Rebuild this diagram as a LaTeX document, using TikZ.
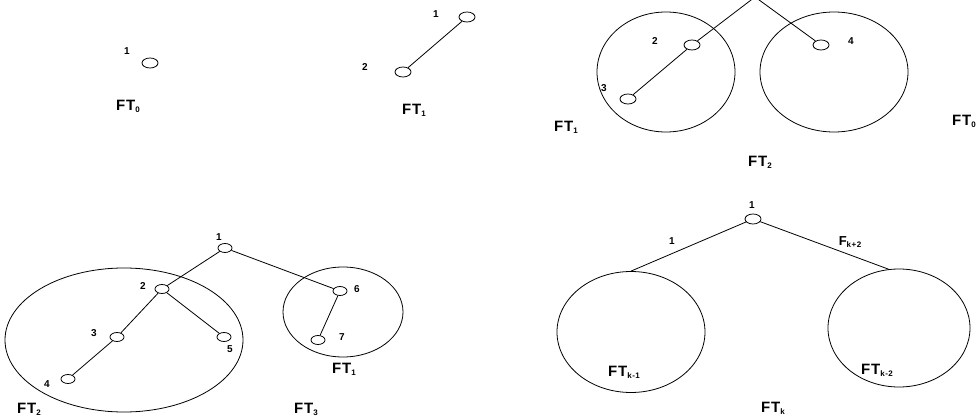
\documentclass[tikz,border=0pt]{standalone}
\usepackage{fontspec}
\setmainfont{Liberation Sans}
\usetikzlibrary{shapes.geometric}
\newcommand{\ftsb}[1]{\raisebox{-0.25ex}{\fontsize{8}{9}\selectfont #1}}
\begin{document}
\begin{tikzpicture}[x=1pt,y=-1pt,line width=0.8pt,
  vert/.style={draw,ellipse,minimum width=16pt,minimum height=10pt,inner sep=0pt},
  svert/.style={draw,ellipse,minimum width=14pt,minimum height=9pt,inner sep=0pt},
  blob/.style={draw,ellipse,inner sep=0pt},
  num/.style={font=\bfseries\fontsize{10}{11}\selectfont,inner sep=0pt},
  ftlab/.style={font=\bfseries\fontsize{15}{17}\selectfont\addfontfeature{LetterSpace=6},inner sep=0pt}]
\useasboundingbox (0,0) rectangle (978,417);
\clip (0,0) rectangle (978,417);
% FT0
\node[vert] (a1) at (150,63) {};
\node[num] (la1) at (127,51) {1};
\node[ftlab] (lfa) at (128,106) {FT\ftsb{0}};
% FT1
\node[vert] (b1) at (467,17) {};
\node[vert] (b2) at (403,72) {};
\node[num] (lb1) at (436,14) {1};
\node[num] (lb2) at (365,67) {2};
\draw (b1) -- (b2);
\node[ftlab] (lfb) at (414,110) {FT\ftsb{1}};
% FT2
\node[blob,minimum width=138pt,minimum height=120pt] (cL) at (666,72) {};
\node[blob,minimum width=148pt,minimum height=120pt] (cR) at (834,72) {};
\coordinate (apex) at (755,-3);
\node[vert] (c2) at (692,45) {};
\node[vert] (c3) at (628,99) {};
\node[vert] (c4) at (821,45) {};
\node[num] (lc2) at (655,41) {2};
\node[num] (lc3) at (604,88) {3};
\node[num] (lc4) at (851,41) {4};
\draw (apex) -- (c2) -- (c3);
\draw (apex) -- (c4);
\node[ftlab] (lfc1) at (566,127) {FT\ftsb{1}};
\node[ftlab] (lfc2) at (760,162) {FT\ftsb{2}};
\node[ftlab] (lfc0) at (964,121) {FT\ftsb{0}};
% FT3
\node[blob,minimum width=238pt,minimum height=144pt] (dL) at (124,340) {};
\node[blob,minimum width=120pt,minimum height=90pt] (dR) at (343,312) {};
\node[svert] (d1) at (225,248) {};
\node[svert] (d2) at (162,289) {};
\node[svert] (d3) at (117,337) {};
\node[svert] (d4) at (68,379) {};
\node[svert] (d5) at (224,337) {};
\node[svert] (d6) at (340,291) {};
\node[svert] (d7) at (318,340) {};
\node[num] (ld1) at (219,237) {1};
\node[num] (ld2) at (143,286) {2};
\node[num] (ld3) at (94,333) {3};
\node[num] (ld4) at (47,384) {4};
\node[num] (ld5) at (230,349) {5};
\node[num] (ld6) at (357,289) {6};
\node[num] (ld7) at (342,337) {7};
\draw (d1) -- (d2) -- (d3) -- (d4);
\draw (d2) -- (d5);
\draw (d1) -- (d6) -- (d7);
\node[ftlab] (lfd1) at (344,369) {FT\ftsb{1}};
\node[ftlab] (lfd2) at (29,409) {FT\ftsb{2}};
\node[ftlab] (lfd3) at (306,409) {FT\ftsb{3}};
% FTk
\node[vert] (e1) at (753,219) {};
\node[num] (le1) at (752,205) {1};
\node[blob,minimum width=148pt,minimum height=121pt] (eL) at (631,332) {};
\node[blob,minimum width=142pt,minimum height=118pt] (eR) at (899,328) {};
\draw (e1) -- (eL.north);
\draw (e1) -- (eR.100);
\node[num] (le2) at (672,241) {1};
\node[ftlab,font=\bfseries\fontsize{13}{15}\selectfont\addfontfeature{LetterSpace=6}] (le3) at (850,242) {F\ftsb{k+2}};
\node[ftlab] (lfe1) at (624,372) {FT\ftsb{k-1}};
\node[ftlab] (lfe2) at (877,370) {FT\ftsb{k-2}};
\node[ftlab] (lfe3) at (773,408) {FT\ftsb{k}};
\end{tikzpicture}
\end{document}
